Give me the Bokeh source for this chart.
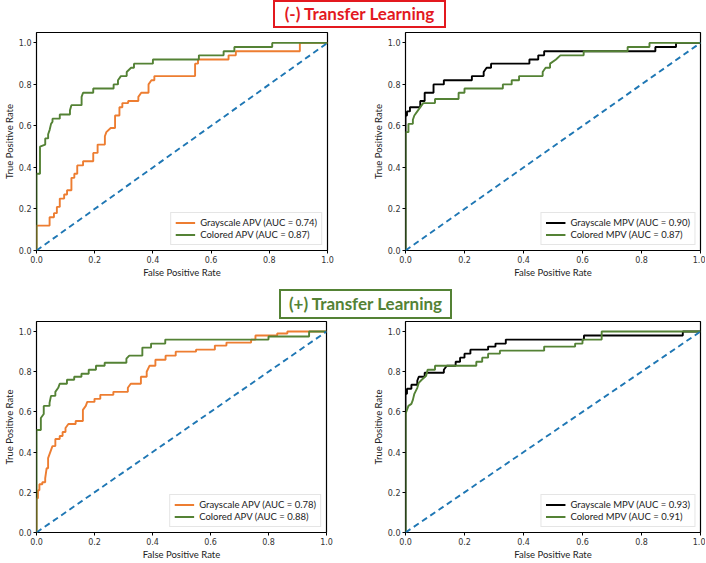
from bokeh.plotting import figure
from bokeh.layouts import column, row
from bokeh.models import Div, Range1d, FixedTicker, PrintfTickFormatter, Legend, LegendItem
from bokeh.embed import file_html
from bokeh.resources import INLINE

# ---------------- data ----------------
# (-) Transfer Learning, APV
neg_apv_gray_fpr = [0, 0, 0.045, 0.045, 0.06, 0.06, 0.07, 0.07, 0.08, 0.08, 0.095, 0.095, 0.105, 0.105, 0.12, 0.12,
                    0.13, 0.13, 0.14, 0.14, 0.16, 0.16, 0.195, 0.195, 0.21, 0.21, 0.235, 0.235, 0.24, 0.255, 0.27,
                    0.27, 0.285, 0.285, 0.295, 0.295, 0.315, 0.315, 0.35, 0.35, 0.36, 0.385, 0.385, 0.395, 0.405,
                    0.405, 0.545, 0.545, 0.555, 0.555, 0.66, 0.66, 0.685, 0.685, 0.905, 0.905, 1.0]
neg_apv_gray_tpr = [0, 0.12, 0.12, 0.16, 0.16, 0.18, 0.18, 0.21, 0.21, 0.25, 0.25, 0.27, 0.27, 0.29, 0.29, 0.35,
                    0.35, 0.37, 0.37, 0.41, 0.41, 0.43, 0.43, 0.47, 0.47, 0.51, 0.51, 0.55, 0.57, 0.59, 0.59,
                    0.65, 0.65, 0.69, 0.69, 0.71, 0.71, 0.72, 0.72, 0.74, 0.76, 0.76, 0.80, 0.82, 0.82,
                    0.84, 0.84, 0.90, 0.90, 0.92, 0.92, 0.94, 0.94, 0.96, 0.96, 1.0, 1.0]
neg_apv_col_fpr = [0, 0, 0.012, 0.012, 0.03, 0.03, 0.04, 0.04, 0.045, 0.05, 0.055, 0.055, 0.08, 0.08, 0.115, 0.115,
                   0.12, 0.155, 0.155, 0.16, 0.195, 0.195, 0.265, 0.265, 0.28, 0.28, 0.29, 0.31, 0.31, 0.325,
                   0.335, 0.335, 0.40, 0.40, 0.558, 0.558, 0.643, 0.643, 0.68, 0.68, 0.81, 0.81, 1.0]
neg_apv_col_tpr = [0, 0.37, 0.37, 0.50, 0.51, 0.54, 0.54, 0.56, 0.58, 0.61, 0.62, 0.635, 0.635, 0.655, 0.655, 0.675,
                   0.70, 0.70, 0.74, 0.76, 0.76, 0.78, 0.78, 0.80, 0.80, 0.82, 0.84, 0.84, 0.86, 0.88,
                   0.88, 0.90, 0.90, 0.92, 0.92, 0.94, 0.94, 0.96, 0.96, 0.98, 0.98, 1.0, 1.0]

# (-) Transfer Learning, MPV
neg_mpv_gray_fpr = [0, 0, 0.005, 0.005, 0.015, 0.015, 0.05, 0.05, 0.065, 0.065, 0.095, 0.095, 0.13, 0.13, 0.225,
                    0.225, 0.265, 0.265, 0.275, 0.29, 0.29, 0.42, 0.42, 0.45, 0.45, 0.47, 0.47, 0.847, 0.847,
                    0.917, 0.917, 1.0]
neg_mpv_gray_tpr = [0, 0.65, 0.65, 0.67, 0.67, 0.69, 0.69, 0.72, 0.72, 0.76, 0.76, 0.80, 0.80, 0.82, 0.82,
                    0.84, 0.84, 0.86, 0.88, 0.88, 0.90, 0.90, 0.92, 0.92, 0.94, 0.94, 0.96, 0.96, 0.98,
                    0.98, 1.0, 1.0]
neg_mpv_col_fpr = [0, 0, 0.01, 0.01, 0.025, 0.025, 0.03, 0.04, 0.05, 0.055, 0.06, 0.1, 0.1, 0.18, 0.18, 0.2, 0.2,
                   0.33, 0.33, 0.36, 0.36, 0.385, 0.385, 0.465, 0.465, 0.475, 0.49, 0.49, 0.51, 0.525, 0.604,
                   0.604, 0.753, 0.753, 0.827, 0.827, 1.0]
neg_mpv_col_tpr = [0, 0.57, 0.57, 0.61, 0.61, 0.63, 0.65, 0.67, 0.69, 0.70, 0.71, 0.71, 0.73, 0.73, 0.76, 0.76, 0.78,
                   0.78, 0.80, 0.80, 0.82, 0.82, 0.84, 0.84, 0.86, 0.88, 0.88, 0.90, 0.92, 0.94, 0.94,
                   0.96, 0.96, 0.98, 0.98, 1.0, 1.0]

# (+) Transfer Learning, APV
pos_apv_gray_fpr = [0, 0, 0.005, 0.005, 0.01, 0.01, 0.02, 0.02, 0.03, 0.03, 0.035, 0.04, 0.04, 0.045, 0.05, 0.055,
                    0.065, 0.065, 0.08, 0.08, 0.09, 0.09, 0.1, 0.1, 0.11, 0.135, 0.135, 0.16, 0.16, 0.17, 0.175,
                    0.2, 0.2, 0.22, 0.22, 0.265, 0.265, 0.315, 0.315, 0.325, 0.36, 0.36, 0.38, 0.38, 0.39, 0.41,
                    0.41, 0.445, 0.445, 0.48, 0.48, 0.55, 0.55, 0.615, 0.615, 0.655, 0.655, 0.74, 0.74, 0.755,
                    0.755, 0.83, 0.83, 0.865, 0.865, 1.0]
pos_apv_gray_tpr = [0, 0.17, 0.17, 0.21, 0.21, 0.24, 0.24, 0.25, 0.25, 0.27, 0.32, 0.32, 0.37, 0.39, 0.41, 0.43,
                    0.43, 0.465, 0.465, 0.48, 0.48, 0.50, 0.50, 0.52, 0.54, 0.54, 0.555, 0.555, 0.61, 0.63, 0.65,
                    0.65, 0.665, 0.665, 0.685, 0.685, 0.70, 0.70, 0.72, 0.74, 0.74, 0.775, 0.775, 0.80, 0.83, 0.83,
                    0.86, 0.86, 0.88, 0.88, 0.90, 0.90, 0.91, 0.91, 0.93, 0.93, 0.945, 0.945, 0.96, 0.96,
                    0.98, 0.98, 0.99, 0.99, 1.0, 1.0]
pos_apv_col_fpr = [0, 0, 0.015, 0.015, 0.025, 0.025, 0.045, 0.045, 0.05, 0.065, 0.065, 0.075, 0.08, 0.105, 0.105,
                   0.13, 0.13, 0.155, 0.155, 0.18, 0.18, 0.205, 0.205, 0.235, 0.235, 0.31, 0.31, 0.32, 0.365,
                   0.365, 0.395, 0.395, 0.444, 0.444, 0.80, 0.80, 0.94, 0.94, 1.0]
pos_apv_col_tpr = [0, 0.51, 0.51, 0.57, 0.59, 0.63, 0.63, 0.645, 0.68, 0.68, 0.70, 0.72, 0.74, 0.74, 0.76,
                   0.76, 0.775, 0.775, 0.79, 0.79, 0.81, 0.81, 0.83, 0.83, 0.845, 0.845, 0.865, 0.88, 0.88,
                   0.92, 0.92, 0.94, 0.94, 0.96, 0.96, 0.975, 0.975, 1.0, 1.0]

# (+) Transfer Learning, MPV
pos_mpv_gray_fpr = [0, 0, 0.005, 0.005, 0.02, 0.02, 0.04, 0.04, 0.045, 0.065, 0.065, 0.13, 0.13, 0.14, 0.17, 0.17,
                    0.185, 0.185, 0.2, 0.2, 0.22, 0.22, 0.28, 0.28, 0.305, 0.305, 0.34, 0.34, 0.605, 0.605,
                    0.94, 0.94, 1.0]
pos_mpv_gray_tpr = [0, 0.69, 0.69, 0.715, 0.715, 0.735, 0.735, 0.755, 0.775, 0.775, 0.795, 0.795, 0.81, 0.83, 0.83,
                    0.85, 0.85, 0.87, 0.87, 0.89, 0.89, 0.91, 0.91, 0.925, 0.925, 0.94, 0.94, 0.96, 0.96,
                    0.98, 0.98, 1.0, 1.0]
pos_mpv_col_fpr = [0, 0, 0.005, 0.01, 0.02, 0.025, 0.03, 0.04, 0.045, 0.055, 0.07, 0.075, 0.1, 0.1, 0.24, 0.24,
                   0.26, 0.26, 0.28, 0.28, 0.32, 0.32, 0.47, 0.47, 0.575, 0.575, 0.6, 0.6, 0.665, 0.665, 1.0]
pos_mpv_col_tpr = [0, 0.59, 0.61, 0.63, 0.64, 0.66, 0.69, 0.72, 0.745, 0.76, 0.78, 0.81, 0.81, 0.83, 0.83, 0.85,
                   0.85, 0.87, 0.87, 0.89, 0.89, 0.905, 0.905, 0.925, 0.925, 0.94, 0.94, 0.96, 0.96, 1.0, 1.0]

chance = [0, 1]
ticks = [0.0, 0.2, 0.4, 0.6, 0.8, 1.0]

ORANGE = "#ED7D31"
GREEN = "#548235"
BLACK = "#000000"
BLUE = "#1f77b4"
TICK_FONT = "DejaVu Sans"
LABEL_FONT = "Lato"


def roc_panel(width, height, border_left, border_top, border_right, border_bottom, curves):
    p = figure(width=width, height=height, output_backend="svg", toolbar_location=None,
               x_range=Range1d(0, 1), y_range=Range1d(0, 1.05),
               min_border_left=border_left, min_border_top=border_top,
               min_border_right=border_right, min_border_bottom=border_bottom,
               background_fill_color="white", border_fill_color="white", margin=(0, 0, 0, 0))
    p.grid.visible = False
    p.outline_line_color = "black"
    p.outline_line_width = 1.2
    for ax in (p.xaxis, p.yaxis):
        ax.ticker = FixedTicker(ticks=ticks)
        ax.formatter = PrintfTickFormatter(format="%.1f")
        ax.major_label_text_font = TICK_FONT
        ax.major_label_text_font_size = "8px"
        ax.major_label_text_color = "#333333"
        ax.axis_label_text_font = LABEL_FONT
        ax.axis_label_text_font_size = "9.5px"
        ax.axis_label_text_font_style = "normal"
        ax.axis_label_text_color = "#222222"
        ax.minor_tick_line_color = None
        ax.major_tick_in = 0
        ax.major_tick_out = 3
        ax.major_label_standoff = 2
        ax.axis_label_standoff = 1
        ax.axis_line_color = None
    p.xaxis.axis_label = "False Positive Rate"
    p.yaxis.axis_label = "True Positive Rate"

    items = []
    for label, xs, ys, color in curves:
        r = p.line(xs, ys, line_color=color, line_width=1.9)
        items.append(LegendItem(label=label, renderers=[r]))
    p.line(chance, chance, line_color=BLUE, line_width=1.9, line_dash="6 4")

    leg = Legend(items=items, location="bottom_right")
    leg.label_text_font = LABEL_FONT
    leg.label_text_font_size = "9.5px"
    leg.label_text_color = "#222222"
    leg.label_height = 11
    leg.glyph_height = 11
    leg.glyph_width = 20
    leg.spacing = 1
    leg.padding = 4
    leg.margin = 5
    leg.label_standoff = 5
    leg.border_line_color = "#cccccc"
    leg.border_line_width = 1
    leg.background_fill_alpha = 0.85
    p.add_layout(leg)
    return p


def title_div(text, color, height, top, left, box_h):
    html = (f'<div style="position:relative;width:705px;height:{height}px;margin:0;padding:0;">'
            f'<div style="position:absolute;left:{left}px;top:{top}px;width:173px;height:{box_h}px;'
            f'box-sizing:border-box;border:2px solid {color};color:{color};'
            f'font-family:Lato,sans-serif;font-weight:bold;font-size:17px;text-align:center;'
            f'line-height:{box_h - 4}px;white-space:nowrap;">{text}</div></div>')
    return Div(text=html, width=705, height=height, margin=(0, 0, 0, 0))


p1 = roc_panel(353, 250, 32, 2, 26, 30, [
    ("Grayscale APV (AUC = 0.74)", neg_apv_gray_fpr, neg_apv_gray_tpr, ORANGE),
    ("Colored APV (AUC = 0.87)", neg_apv_col_fpr, neg_apv_col_tpr, GREEN)])
p2 = roc_panel(352, 250, 52, 2, 5, 30, [
    ("Grayscale MPV (AUC = 0.90)", neg_mpv_gray_fpr, neg_mpv_gray_tpr, BLACK),
    ("Colored MPV (AUC = 0.87)", neg_mpv_col_fpr, neg_mpv_col_tpr, GREEN)])
p3 = roc_panel(353, 243, 32, 2, 27, 23, [
    ("Grayscale APV (AUC = 0.78)", pos_apv_gray_fpr, pos_apv_gray_tpr, ORANGE),
    ("Colored APV (AUC = 0.88)", pos_apv_col_fpr, pos_apv_col_tpr, GREEN)])
p4 = roc_panel(352, 243, 52, 2, 5, 23, [
    ("Grayscale MPV (AUC = 0.93)", pos_mpv_gray_fpr, pos_mpv_gray_tpr, BLACK),
    ("Colored MPV (AUC = 0.91)", pos_mpv_col_fpr, pos_mpv_col_tpr, GREEN)])

t1 = title_div("(-) Transfer Learning", "#E3191F", 30, 0, 273, 28)
t2 = title_div("(+) Transfer Learning", "#548235", 39, 9, 279, 30)

layout = column(t1, row(p1, p2, margin=(0, 0, 0, 0)), t2, row(p3, p4, margin=(0, 0, 0, 0)),
                margin=(0, 0, 0, 0), spacing=0)

open("out.html", "w").write(file_html(layout, INLINE))
